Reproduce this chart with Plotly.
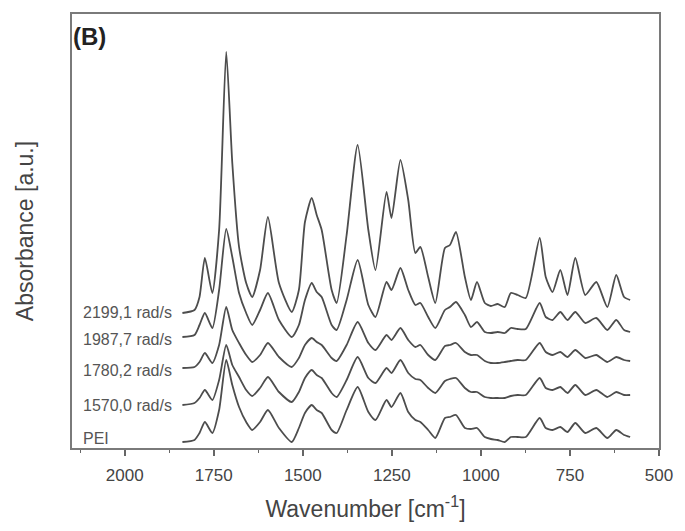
import plotly.graph_objects as go

wavenumber = [1838, 1804, 1790, 1775, 1754, 1735, 1715, 1698, 1679, 1659, 1642, 1620, 1598, 1567,
              1531, 1511, 1494, 1475, 1461, 1447, 1419, 1405, 1377, 1346, 1316, 1296, 1265, 1251,
              1226, 1204, 1184, 1170, 1148, 1128, 1101, 1087, 1070, 1045, 1028, 1011, 989, 972,
              953, 933, 916, 897, 874, 835, 818, 799, 777, 757, 735, 707, 676, 645, 620, 598, 581]

# Absorbance (a.u., already offset-stacked as in the figure)
abs_2199 = [135, 138, 151, 190, 155, 218, 396, 285, 201, 165, 151, 178, 231, 165,
            136, 158, 226, 250, 233, 218, 158, 145, 213, 303, 218, 178, 256, 230,
            288, 248, 195, 201, 171, 145, 200, 203, 216, 171, 148, 166, 145, 142,
            144, 141, 155, 153, 150, 210, 171, 156, 178, 153, 190, 153, 166, 141, 173, 151, 148]
abs_1987 = [111, 113, 123, 135, 120, 158, 219, 191, 155, 135, 123, 138, 155, 128,
            111, 123, 148, 165, 156, 151, 123, 118, 148, 188, 143, 131, 166, 158,
            180, 158, 143, 145, 131, 120, 138, 141, 146, 133, 121, 126, 116, 115,
            116, 115, 120, 119, 119, 145, 131, 128, 136, 128, 136, 125, 130, 118, 128, 118, 116]
abs_1780 = [80, 81, 86, 95, 85, 103, 141, 118, 105, 93, 86, 93, 105, 91,
            81, 90, 103, 110, 106, 103, 90, 87, 103, 126, 105, 98, 113, 108,
            120, 108, 101, 103, 93, 88, 102, 103, 105, 96, 93, 93, 87, 85,
            85, 86, 87, 88, 88, 105, 96, 93, 96, 91, 98, 90, 93, 86, 91, 88, 87]
abs_1570 = [43, 45, 50, 58, 48, 68, 103, 83, 71, 58, 52, 60, 71, 56,
            46, 56, 70, 78, 73, 70, 55, 51, 68, 91, 70, 65, 80, 75,
            88, 75, 69, 68, 60, 55, 67, 69, 70, 60, 56, 56, 51, 50,
            50, 50, 52, 53, 53, 70, 60, 58, 61, 55, 63, 53, 58, 51, 56, 53, 53]
abs_pei = [6, 8, 15, 26, 15, 38, 88, 63, 41, 26, 18, 26, 38, 20,
           6, 20, 35, 43, 38, 35, 18, 15, 38, 61, 36, 28, 48, 41,
           55, 36, 28, 26, 18, 10, 30, 31, 33, 20, 19, 20, 11, 9,
           8, 6, 11, 11, 11, 30, 20, 18, 21, 16, 25, 15, 20, 10, 18, 13, 11]

series_names = ["2199,1 rad/s", "1987,7 rad/s", "1780,2 rad/s", "1570,0 rad/s", "PEI"]
series_values = [abs_2199, abs_1987, abs_1780, abs_1570, abs_pei]
label_y = [136, 109, 78, 43, 10]

x_ticks = [2000, 1750, 1500, 1250, 1000, 750, 500]

line_col = "#4d4d4d"
font_fam = "Liberation Sans, Arial, sans-serif"

fig = go.Figure()
for name, vals in zip(series_names, series_values):
    fig.add_trace(go.Scatter(x=wavenumber, y=vals, mode="lines", name=name,
                             line=dict(color=line_col, width=1.8, shape="spline", smoothing=0.6),
                             showlegend=False))

for name, yv in zip(series_names, label_y):
    fig.add_annotation(x=2122, y=yv, xref="x", yref="y", text=name, showarrow=False,
                       xanchor="left", yanchor="middle",
                       font=dict(family=font_fam, size=16, color="#555555"))

fig.add_annotation(x=0.0, y=1.0, xref="paper", yref="paper", text="<b>(B)</b>", showarrow=False,
                   xanchor="left", yanchor="top", xshift=-1, yshift=-7,
                   font=dict(family=font_fam, size=24, color="#222222"))

fig.update_layout(
    width=685, height=531,
    margin=dict(l=72, r=22, t=14, b=83),
    paper_bgcolor="white", plot_bgcolor="white",
    font=dict(family=font_fam, color="#444444"),
)
fig.update_xaxes(
    range=[2148, 500], autorange=False,
    tickvals=x_ticks, ticktext=[str(t) for t in x_ticks],
    ticks="outside", ticklen=6, tickwidth=1.5, tickcolor="#666666",
    ticklabelstandoff=5,
    minor=dict(dtick=125, tick0=0, ticks="outside", ticklen=3, tickcolor="#666666", tickwidth=1.2),
    showline=True, linecolor="#7a7a7a", linewidth=2, mirror=True,
    showgrid=False, zeroline=False,
    tickfont=dict(family=font_fam, size=17, color="#444444"),
    title=dict(text="Wavenumber [cm<sup>-1</sup>]", font=dict(family=font_fam, size=23, color="#444444"),
               standoff=16),
)
fig.update_yaxes(
    range=[0, 434], autorange=False,
    showticklabels=False, ticks="",
    showline=True, linecolor="#7a7a7a", linewidth=2, mirror=True,
    showgrid=False, zeroline=False,
    title=dict(text="Absorbance [a.u.]", font=dict(family=font_fam, size=23, color="#444444"),
               standoff=30),
)

fig.write_html("out.html")
